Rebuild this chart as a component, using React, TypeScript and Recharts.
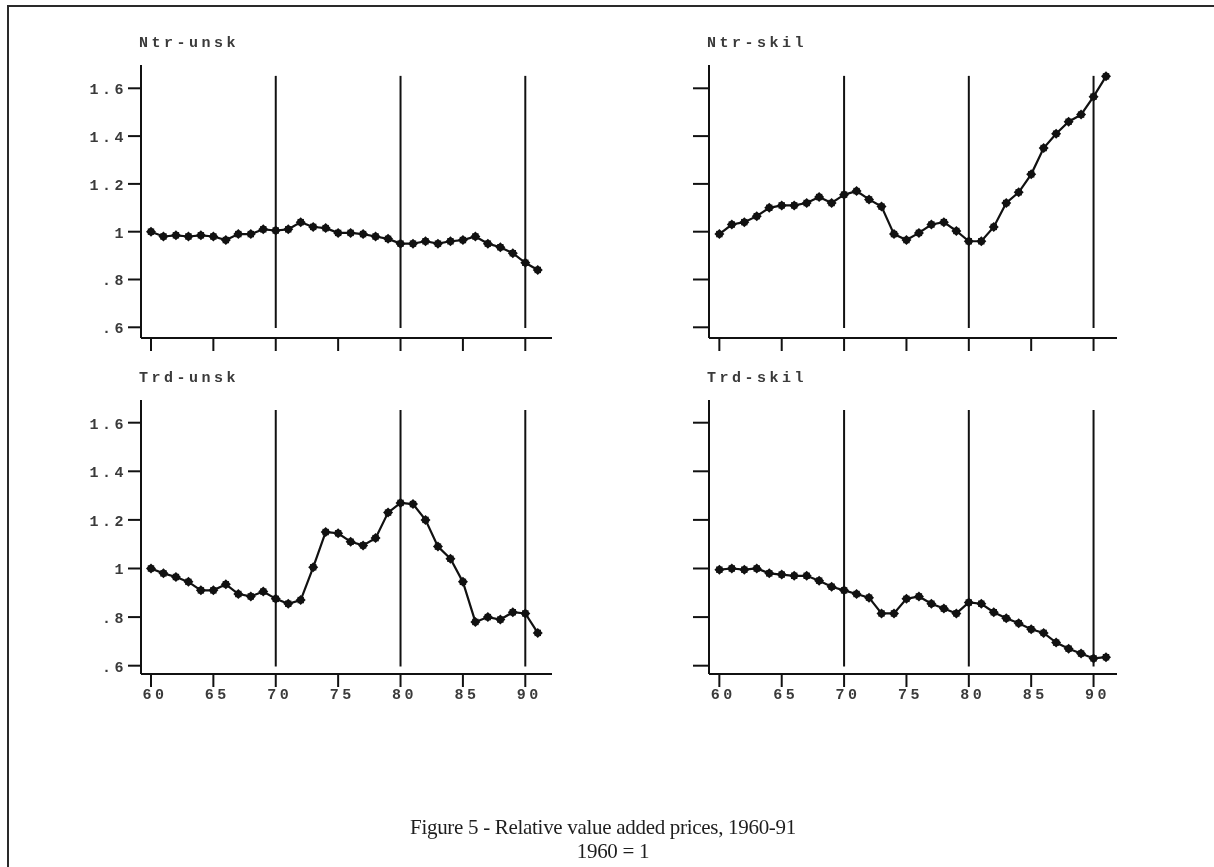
import React from "react";
import { LineChart, Line, XAxis, YAxis, ReferenceLine } from "recharts";

const YEARS = [
  60, 61, 62, 63, 64, 65, 66, 67, 68, 69, 70, 71, 72, 73, 74, 75,
  76, 77, 78, 79, 80, 81, 82, 83, 84, 85, 86, 87, 88, 89, 90, 91,
];

const NTR_UNSK = [
  1.0, 0.98, 0.985, 0.98, 0.985, 0.98, 0.965, 0.99, 0.99, 1.01, 1.005, 1.01, 1.04, 1.02, 1.015, 0.995,
  0.995, 0.99, 0.98, 0.97, 0.95, 0.95, 0.96, 0.95, 0.96, 0.965, 0.98, 0.95, 0.935, 0.91, 0.87, 0.84,
];

const NTR_SKIL = [
  0.99, 1.03, 1.04, 1.065, 1.1, 1.11, 1.11, 1.12, 1.145, 1.12, 1.155, 1.17, 1.135, 1.105, 0.99, 0.965,
  0.995, 1.03, 1.04, 1.003, 0.96, 0.96, 1.02, 1.12, 1.165, 1.24, 1.35, 1.41, 1.46, 1.49, 1.565, 1.65,
];

const TRD_UNSK = [
  1.0, 0.98, 0.965, 0.945, 0.91, 0.91, 0.935, 0.895, 0.885, 0.905, 0.875, 0.855, 0.87, 1.005, 1.15, 1.145,
  1.11, 1.095, 1.125, 1.23, 1.27, 1.265, 1.2, 1.09, 1.04, 0.945, 0.78, 0.8, 0.79, 0.82, 0.815, 0.735,
];

const TRD_SKIL = [
  0.995, 1.0, 0.995, 1.0, 0.98, 0.975, 0.97, 0.97, 0.95, 0.925, 0.91, 0.895, 0.88, 0.815, 0.815, 0.875,
  0.885, 0.855, 0.835, 0.815, 0.86, 0.855, 0.82, 0.795, 0.775, 0.75, 0.735, 0.695, 0.67, 0.65, 0.63, 0.635,
];

const Y_TICKS = [0.6, 0.8, 1, 1.2, 1.4, 1.6];
const Y_TICK_LABELS = [".6", ".8", "1", "1.2", "1.4", "1.6"];
const X_TICKS = [60, 65, 70, 75, 80, 85, 90];
const X_TICK_LABELS = ["60", "65", "70", "75", "80", "85", "90"];
const DIVIDERS = [70, 80, 90];

const INK = "#111";
const TEXT = "#3a3a3a";
const MONO = "'Liberation Mono', 'DejaVu Sans Mono', monospace";

const Marker = (props: any) => {
  const { cx, cy } = props;
  if (cx == null || cy == null) return null;
  return (
    <g key={props.key}>
      <path
        d={`M${cx - 5},${cy} L${cx},${cy - 5} L${cx + 5},${cy} L${cx},${cy + 5} Z`}
        fill={INK}
      />
      <rect x={cx - 3.2} y={cy - 3.2} width={6.4} height={6.4} fill={INK} />
    </g>
  );
};

const YTick = (props: any) => {
  const { x, y, payload, show } = props;
  if (!show) return <g />;
  const i = Y_TICKS.indexOf(payload.value);
  return (
    <text x={x - 1} y={y} dy={6} textAnchor="end" fontFamily={MONO} fontSize={15} fontWeight="bold"
      letterSpacing={3.5} fill={TEXT}>
      {Y_TICK_LABELS[i]}
    </text>
  );
};

const XTick = (props: any) => {
  const { x, y, payload, show } = props;
  if (!show) return <g />;
  const i = X_TICKS.indexOf(payload.value);
  return (
    <text x={x + 4} y={y} dy={12} textAnchor="middle" fontFamily={MONO} fontSize={15} fontWeight="bold"
      letterSpacing={3.5} fill={TEXT}>
      {X_TICK_LABELS[i]}
    </text>
  );
};

type PanelProps = {
  title: string;
  values: number[];
  left: number;
  top: number;
  height: number;
  marginRight: number;
  xDomain: [number, number];
  yDomain: [number, number];
  yLabels: boolean;
  xLabels: boolean;
};

const Panel = ({ title, values, left, top, height, marginRight, xDomain, yDomain, yLabels, xLabels }: PanelProps) => {
  const data = YEARS.map((yr, i) => ({ year: yr, value: values[i] }));
  return (
    <>
      <div
        style={{
          position: "absolute",
          left: left + 79,
          top: top + 6,
          fontFamily: MONO,
          fontSize: 15,
          fontWeight: "bold",
          lineHeight: "15px",
          letterSpacing: 3.5,
          color: TEXT,
          whiteSpace: "nowrap",
        }}
      >
        {title}
      </div>
      <div style={{ position: "absolute", left, top }}>
        <LineChart
          width={520}
          height={height}
          data={data}
          margin={{ top: 35, right: marginRight, bottom: 2, left: 21 }}
        >
          <XAxis
            dataKey="year"
            type="number"
            domain={xDomain}
            ticks={X_TICKS}
            allowDataOverflow
            height={30}
            tickSize={13}
            tickMargin={0}
            axisLine={{ stroke: INK, strokeWidth: 2 }}
            tickLine={{ stroke: INK, strokeWidth: 2 }}
            tick={<XTick show={xLabels} />}
            interval={0}
          />
          <YAxis
            type="number"
            domain={yDomain}
            ticks={Y_TICKS}
            allowDataOverflow
            width={60}
            tickSize={yLabels ? 13 : 16}
            tickMargin={0}
            axisLine={{ stroke: INK, strokeWidth: 2 }}
            tickLine={{ stroke: INK, strokeWidth: 2 }}
            tick={<YTick show={yLabels} />}
            interval={0}
          />
          {DIVIDERS.map((d) => (
            <ReferenceLine
              key={d}
              segment={[
                { x: d, y: 0.597 },
                { x: d, y: 1.652 },
              ]}
              stroke={INK}
              strokeWidth={2}
            />
          ))}
          <Line
            type="linear"
            dataKey="value"
            stroke={INK}
            strokeWidth={2.2}
            dot={Marker}
            activeDot={false}
            isAnimationActive={false}
          />
        </LineChart>
      </div>
    </>
  );
};

export default function App() {
  const topDomain: [number, number] = [0.5552, 1.6975];
  const bottomDomain: [number, number] = [0.5658, 1.6934];
  const leftX: [number, number] = [59.2, 92.14];
  const rightX: [number, number] = [59.17, 91.88];
  return (
    <div style={{ position: "absolute", left: 0, top: 0, width: 1214, height: 867, background: "#fff" }}>
      <div
        style={{
          position: "fixed",
          left: 7,
          top: 5,
          width: 1400,
          height: 1000,
          border: "2.5px solid #2a2a2a",
        }}
      />
      <Panel title="Ntr-unsk" values={NTR_UNSK} left={60} top={30} height={340} marginRight={28}
        xDomain={leftX} yDomain={topDomain} yLabels xLabels={false} />
      <Panel title="Ntr-skil" values={NTR_SKIL} left={628} top={30} height={340} marginRight={31}
        xDomain={rightX} yDomain={topDomain} yLabels={false} xLabels={false} />
      <Panel title="Trd-unsk" values={TRD_UNSK} left={60} top={365} height={341} marginRight={28}
        xDomain={leftX} yDomain={bottomDomain} yLabels xLabels />
      <Panel title="Trd-skil" values={TRD_SKIL} left={628} top={365} height={341} marginRight={31}
        xDomain={rightX} yDomain={bottomDomain} yLabels={false} xLabels />
      <div
        style={{
          position: "absolute",
          left: 0,
          width: 1206,
          top: 815,
          textAlign: "center",
          fontFamily: "'Liberation Serif', 'Times New Roman', serif",
          fontSize: 21,
          lineHeight: "24px",
          letterSpacing: -0.3,
          color: "#1e1e1e",
        }}
      >
        <div>Figure 5 - Relative value added prices, 1960-91</div>
        <div style={{ paddingLeft: 20 }}>1960 = 1</div>
      </div>
    </div>
  );
}
